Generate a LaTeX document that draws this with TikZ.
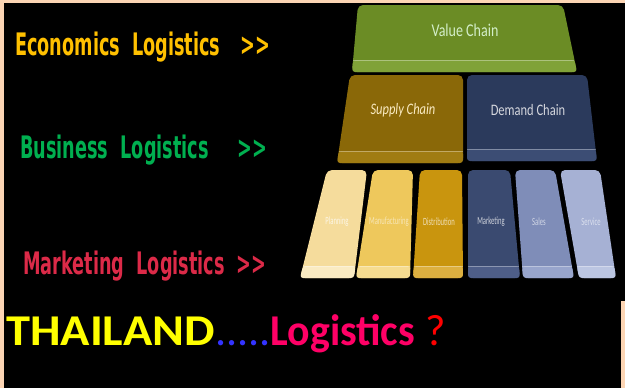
\documentclass[tikz,border=0pt]{standalone}
\usepackage{fontspec}
\usetikzlibrary{calc}
\setmainfont{Carlito}
\newfontfamily\leftfont[FakeStretch=0.57]{DejaVu Sans}
\newfontfamily\blkfont[FakeStretch=0.78]{Carlito}
\newfontfamily\smallfont[FakeStretch=0.6]{Carlito}
\newfontfamily\widefont[FakeStretch=1.1]{Carlito}
\newfontfamily\narrowfont[FakeStretch=0.95]{Carlito}
\definecolor{peach}{HTML}{FCD5B4}
\definecolor{econ}{HTML}{FFC000}
\definecolor{busi}{HTML}{00B050}
\definecolor{mark}{HTML}{DC2A48}
\definecolor{vcface}{HTML}{6B8C25}
\definecolor{vcbev}{HTML}{80A238}
\definecolor{scface}{HTML}{8A6808}
\definecolor{scbev}{HTML}{A07C12}
\definecolor{dcface}{HTML}{2B3A5C}
\definecolor{dcbev}{HTML}{3C4D74}
\definecolor{plface}{HTML}{F5DC9C}
\definecolor{plbev}{HTML}{FAEBC2}
\definecolor{mfface}{HTML}{EEC85C}
\definecolor{mfbev}{HTML}{F6DC90}
\definecolor{diface}{HTML}{C9950E}
\definecolor{dibev}{HTML}{DDB040}
\definecolor{mkface}{HTML}{3A4A70}
\definecolor{mkbev}{HTML}{4E5E88}
\definecolor{saface}{HTML}{7F8DB8}
\definecolor{sabev}{HTML}{98A5CC}
\definecolor{seface}{HTML}{A6B1D4}
\definecolor{sebev}{HTML}{BCC6E2}
\definecolor{tyellow}{HTML}{FFFF00}
\definecolor{tblue}{HTML}{3333FF}
\definecolor{tpink}{HTML}{FF0066}
\definecolor{tred}{HTML}{FF0000}
\newcommand{\keyblk}[9]{%
  \coordinate (#1-tl) at (#2,#6);
  \coordinate (#1-tr) at (#3,#6);
  \coordinate (#1-bl) at (#4,#7);
  \coordinate (#1-br) at (#5,#7);
  \pgfmathsetmacro{\bevfrac}{1-12/(#7-#6)}
  \fill[#8, rounded corners=5pt] (#1-tl) -- (#1-tr) -- (#1-br) -- (#1-bl) -- cycle;
  \fill[#9, rounded corners=3pt] ($(#1-tl)!\bevfrac!(#1-bl)$) -- ($(#1-tr)!\bevfrac!(#1-br)$) -- (#1-br) -- (#1-bl) -- cycle;
  \draw[white, opacity=0.35, line width=0.7pt] ($(#1-tl)!\bevfrac!(#1-bl)$) -- ($(#1-tr)!\bevfrac!(#1-br)$);
}
\tikzset{
  lefttxt/.style={anchor=base west, inner sep=0pt, font=\leftfont\bfseries\fontsize{31}{31}\selectfont},
  blklbl/.style={inner sep=0pt, font=\blkfont\fontsize{18}{18}\selectfont},
  smalllbl/.style={inner sep=0pt, font=\smallfont\fontsize{11}{11}\selectfont},
}
\begin{document}
\begin{tikzpicture}[x=1pt,y=-1pt]
\useasboundingbox (0,0) rectangle (625,388);
\fill[peach] (0,0) rectangle (625,388);
\fill[black] (4,3) rectangle (625,301);
\fill[black] (4,301) rectangle (621,388);
% blocks
\keyblk{vc}{358}{563}{352}{577}{5}{72}{vcface}{vcbev}
\keyblk{sc}{350}{463}{337}{463}{75}{163}{scface}{scbev}
\keyblk{dc}{467}{587}{467}{597}{75}{161}{dcface}{dcbev}
\keyblk{pl}{327}{367}{300}{354}{170}{278}{plface}{plbev}
\keyblk{mf}{373}{413}{356}{410}{170}{278}{mfface}{mfbev}
\keyblk{di}{420}{462}{413}{463}{170}{278}{diface}{dibev}
\keyblk{mk}{468}{510}{468}{520}{170}{278}{mkface}{mkbev}
\keyblk{sa}{515}{555}{523}{574}{170}{278}{saface}{sabev}
\keyblk{se}{560}{600}{579}{616}{170}{278}{seface}{sebev}
% block labels
\node[blklbl, text=green!10!white!85!vcface] (vct) at (465,30) {Value Chain};
\node[blklbl, text=plbev, font=\blkfont\itshape\fontsize{16}{16}\selectfont] (sct) at (403,110) {Supply Chain};
\node[blklbl, text=white!80!dcface, font=\blkfont\fontsize{16}{16}\selectfont] (dct) at (528,110) {Demand Chain};
\node[smalllbl, text=white!75!plface] (plt) at (337,222) {Planning};
\node[smalllbl, text=white!55!mfface] (mft) at (389,222) {Manufacturing};
\node[smalllbl, text=white!70!diface] (dit) at (439,222) {Distribution};
\node[smalllbl, text=white!75!mkface] (mkt) at (491,222) {Marketing};
\node[smalllbl, text=white!65!saface] (sat) at (539,222) {Sales};
\node[smalllbl, text=white!60!seface] (set) at (591,222) {Service};
% left texts
\node[lefttxt, text=econ] (econ) at (15,55) {Economics\ \ Logistics};
\node[lefttxt, text=econ] (econa) at (240,55) {>>};
\node[lefttxt, text=busi] (busi) at (20,158) {Business\ \ Logistics};
\node[lefttxt, text=busi] (busia) at (237,158) {>>};
\node[lefttxt, text=mark] (mark) at (23,274) {Marketing\ \ Logistics};
\node[lefttxt, text=mark] (marka) at (236,274) {>>};
% title
\node[anchor=base west, inner sep=0pt, font=\bfseries\fontsize{44}{44}\selectfont] (title) at (6,345)
  {\textcolor{tyellow}{\widefont\bfseries THAILAND}\textcolor{tblue}{\mdseries.....}\textcolor{tpink}{\narrowfont\bfseries Logistics}\ \textcolor{tred}{\mdseries ?}};
\end{tikzpicture}
\end{document}
